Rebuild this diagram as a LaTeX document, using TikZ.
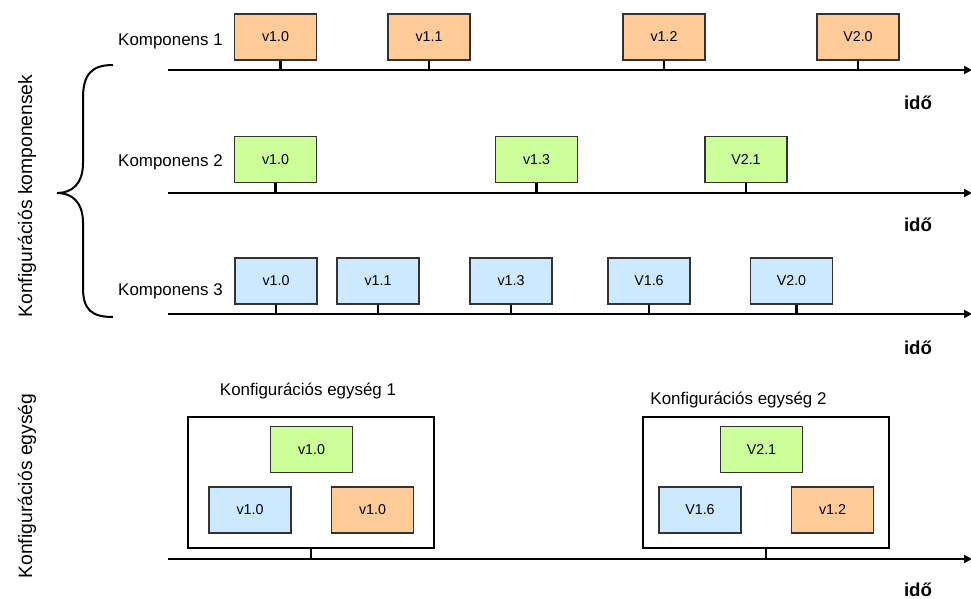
\documentclass[tikz,border=0pt]{standalone}
\usepackage{fontspec}
\setmainfont{Liberation Sans}
\usetikzlibrary{arrows.meta}
\definecolor{corange}{HTML}{FFCC99}
\definecolor{cgreen}{HTML}{CCFF99}
\definecolor{cblue}{HTML}{CCE9FF}
\definecolor{cborder}{HTML}{333333}
\tikzset{
  ver/.style={draw=cborder, line width=1.1pt, minimum width=61.5pt, minimum height=34.5pt, inner sep=0pt, font=\fontsize{10.7}{12}\selectfont},
  vo/.style={ver, fill=corange},
  vg/.style={ver, fill=cgreen},
  vb/.style={ver, fill=cblue},
  axis/.style={line width=1.5pt, -{Triangle[length=6pt,width=6pt]}},
  stem/.style={line width=2.2pt},
  unitbox/.style={draw=black, line width=2pt, minimum width=184.5pt, minimum height=98.25pt, inner sep=0pt},
  lbl/.style={font=\fontsize{12.7}{14}\selectfont, inner sep=0pt},
  rlbl/.style={font=\fontsize{14.5}{16}\selectfont, rotate=90, inner sep=0pt},
  ido/.style={font=\bfseries\fontsize{14}{16}\selectfont, inner sep=0pt}
}
\begin{document}
\begin{tikzpicture}[x=0.75pt, y=-0.75pt]
\useasboundingbox (0,0) rectangle (971,599);

% axes
\coordinate (a1s) at (168,70);  \coordinate (a1e) at (972,70);
\coordinate (a2s) at (168,193); \coordinate (a2e) at (972,193);
\coordinate (a3s) at (168,314); \coordinate (a3e) at (972,314);
\coordinate (a4s) at (168,559); \coordinate (a4e) at (972,559);
\draw[axis] (a1s) -- (a1e);
\draw[axis] (a2s) -- (a2e);
\draw[axis] (a3s) -- (a3e);
\draw[axis] (a4s) -- (a4e);

% row labels
\node[lbl, anchor=base east] (k1) at (223,45.5) {Komponens 1};
\node[lbl, anchor=base east] (k2) at (223,167) {Komponens 2};
\node[lbl, anchor=base east] (k3) at (223,295) {Komponens 3};

% row 1
\node[vo] (r1a) at (275.5,37) {v1.0};
\node[vo] (r1b) at (429,37) {v1.1};
\node[vo] (r1c) at (664,37) {v1.2};
\node[vo] (r1d) at (858,37) {V2.0};
\draw[stem] ([xshift=4pt]r1a.south) -- ([xshift=4pt]r1a.south |- a1s);
\foreach \n in {r1b,r1c,r1d} \draw[stem] (\n.south) -- (\n.south |- a1s);

% row 2
\node[vg] (r2a) at (275.5,159.5) {v1.0};
\node[vg] (r2b) at (536.5,159.5) {v1.3};
\node[vg] (r2c) at (746,159.5) {V2.1};
\foreach \n in {r2a,r2b,r2c} \draw[stem] (\n.south) -- (\n.south |- a2s);

% row 3
\node[vb] (r3a) at (276,281) {v1.0};
\node[vb] (r3b) at (378,281) {v1.1};
\node[vb] (r3c) at (511,281) {v1.3};
\node[vb] (r3d) at (649,281) {V1.6};
\node[vb] (r3e) at (791.5,281) {V2.0};
\foreach \n in {r3a,r3b,r3c,r3d} \draw[stem] (\n.south) -- (\n.south |- a3s);
\draw[stem] ([xshift=4pt]r3e.south) -- ([xshift=4pt]r3e.south |- a3s);

% ido labels
\node[ido] (i1) at (918,103) {idő};
\node[ido] (i2) at (918,225) {idő};
\node[ido] (i3) at (918,348) {idő};
\node[ido] (i4) at (918,590) {idő};

% brace
\draw[line width=1.5pt] (113,65) .. controls (92,65) and (83,74) .. (83,98) -- (83,163)
  .. controls (83,184) and (72,193) .. (57,193)
  .. controls (72,193) and (83,202) .. (83,223) -- (83,288)
  .. controls (83,310) and (92,317) .. (113,317);

% rotated labels
\node[rlbl] (rk) at (27,196) {Konfigurációs komponensek};
\node[rlbl] (re) at (27,486) {Konfigurációs egység};

% unit 1
\node[lbl, anchor=base] (u1l) at (308,395) {Konfigurációs egység 1};
\node[unitbox] (u1) at (311,482.5) {};
\node[vg] (u1g) at (311.5,449.5) {v1.0};
\node[vb] (u1b) at (250,510) {v1.0};
\node[vo] (u1o) at (372.5,510) {v1.0};
\draw[stem] (u1.south) -- (u1.south |- a4s);

% unit 2
\node[lbl, anchor=base] (u2l) at (738.5,404) {Konfigurációs egység 2};
\node[unitbox] (u2) at (766,482.5) {};
\node[vg] (u2g) at (761.5,449.5) {V2.1};
\node[vb] (u2b) at (700,510) {V1.6};
\node[vo] (u2o) at (832.5,510) {v1.2};
\draw[stem] (u2.south) -- (u2.south |- a4s);
\end{tikzpicture}
\end{document}
